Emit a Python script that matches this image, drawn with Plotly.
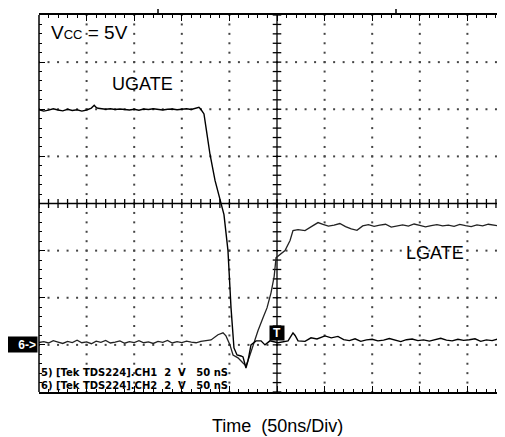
import plotly.graph_objects as go

# ---------------- data (time in ns, 50 ns/div ; volts, 2 V/div) ----------------
ugate_t = [0, 5, 10, 15, 20, 25, 30, 35, 40, 45, 50, 55, 58, 60, 62, 65, 70, 75, 80, 85,
           90, 95, 100, 105, 110, 115, 120, 125, 130, 135, 140, 145, 150, 155, 160, 165, 168, 170,
           173.3, 175.4, 179.6, 184.9, 191.2, 194.3, 198.5, 201.7, 204.8, 208, 212.2, 214.3,
           217.4, 219.5, 222.7, 228, 233.2, 237.4, 242.6, 251, 261.6, 266.8, 269, 272.1, 279.4,
           285.7, 292, 300.4, 307, 314, 320, 326, 332, 338, 344, 350, 356, 362, 368, 374, 380,
           386, 392, 398, 404, 410, 416, 422, 428, 434, 440, 446, 452, 458, 464, 470, 476, 482,
           488, 494, 498]
ugate_v = [9.98, 9.92, 9.96, 10.02, 9.97, 9.93, 10.0, 9.95, 9.98, 9.92, 9.97, 10.05, 10.17, 10.08,
           10.04, 10.03, 10.0, 10.02, 9.99, 10.01, 9.98, 9.97, 10.0, 9.96, 10.01, 9.99, 10.02, 9.98,
           9.97, 10.0, 10.01, 9.98, 10.0, 10.02, 9.99, 10.03, 10.08, 10.0,
           9.8, 9.23, 8.09, 6.98, 5.96, 5.53, 4.0, 1.57, -0.13, -0.43, -0.47, -0.51,
           -0.98, -0.68, 0.0, 0.17, 0.17, 0.0, 0.17, 0.09, 0.17, 0.51, 0.4, 0.17, 0.15,
           0.3, 0.25, 0.38, 0.3, 0.36, 0.22, 0.18, 0.26, 0.15, 0.21, 0.24, 0.17, 0.2, 0.27,
           0.19, 0.14, 0.22, 0.25, 0.18, 0.21, 0.16, 0.23, 0.28, 0.2, 0.17, 0.24, 0.19, 0.22,
           0.26, 0.15, 0.21, 0.18, 0.25, 0.2, 0.23, 0.17]

lgate_t = [0, 5, 10, 15, 20, 25, 30, 35, 40, 45, 50, 55, 60, 65, 70, 75, 80, 85, 90, 95, 100,
           105, 110, 115, 120, 125, 130, 135, 140, 145, 150, 155, 160, 165, 170, 175,
           180.7, 188, 193.3, 196.4, 200.6, 203.8, 209, 214.3, 217.4, 221.6, 224.8, 230, 235.3,
           239.5, 243.7, 247, 249, 253.2, 258.4, 263.7, 266.8, 272.1, 279.4, 287.8, 293.1, 298.3,
           304, 310, 316, 322, 328, 334, 340, 346, 352, 358, 364, 370, 376, 382, 388, 394, 400,
           406, 412, 418, 424, 430, 436, 442, 448, 454, 460, 466, 472, 478, 484, 490, 498]
lgate_v = [0.1, 0.14, 0.08, 0.18, 0.12, 0.06, 0.15, 0.1, 0.2, 0.09, 0.13, 0.05, 0.16, 0.11, 0.19,
           0.08, 0.12, 0.17, 0.07, 0.14, 0.1, 0.18, 0.09, 0.13, 0.06, 0.15, 0.11, 0.19, 0.08, 0.14,
           0.1, 0.16, 0.12, 0.09, 0.15, 0.18,
           0.21, 0.43, 0.51, 0.38, 0.0, -0.43, -0.55, -0.77, -0.89, -0.43, 0.0, 0.6, 1.15,
           1.57, 2.21, 2.9, 3.7, 3.83, 4.0, 4.43, 4.85, 4.89, 4.85, 5.06, 5.19, 5.11,
           5.04, 5.08, 5.15, 5.02, 4.92, 4.86, 5.05, 5.1, 5.03, 5.08, 5.12, 5.0, 5.06, 5.09, 5.04,
           5.13, 5.07, 5.01, 5.06, 5.1, 5.05, 5.08, 5.03, 5.11, 5.06, 5.02, 5.09, 5.05, 5.12,
           5.07, 5.04, 5.1, 5.13]

NB = "\u00a0"
labels = {"vcc": "V<span style='font-size:13px'>CC</span> = 5V", "ugate": "UGATE", "lgate": "LGATE",
          "xtitle": "Time" + NB + " (50ns/Div)",
          "ch1": "5) [Tek TDS224].CH1" + NB + " 2" + NB + " V" + NB * 2 + " 50 nS",
          "ch2": "6) [Tek TDS224].CH2" + NB + " 2" + NB + " V" + NB * 2 + " 50 nS"}

T_MAX = 497.9            # visible time span (right border just off screen)
V_MIN, V_MAX = -2, 14    # 8 divisions of 2 V
NS_DIV, V_DIV = 50, 2
trig_t, trig_v = 250, 0.51

FONT = "Liberation Sans, Arial, sans-serif"
fig = go.Figure()

# ---- graticule dots ----
gx, gy = [], []
for k in range(1, 10):
    xd = k * NS_DIV
    if xd == 250:
        continue
    for j in range(0, 41):
        gx.append(xd); gy.append(V_MIN + j * V_DIV / 5)
for k in range(1, 8):
    yd = V_MIN + k * V_DIV
    if yd == 6:
        continue
    for j in range(0, 50):
        gx.append(j * NS_DIV / 5); gy.append(yd)
fig.add_trace(go.Scatter(x=gx, y=gy, mode="markers", hoverinfo="skip",
                         marker=dict(size=2, color="#444", symbol="square", line=dict(width=0))))

# ---- centre axes with ticks ----
cx, cy = [], []
for j in range(0, 41):
    v = V_MIN + j * V_DIV / 5
    cx += [250 - 4.5, 250 + 4.5, None]; cy += [v, v, None]
for j in range(0, 50):
    t = j * NS_DIV / 5
    cx += [t, t, None]; cy += [6 - 0.19, 6 + 0.19, None]
cx += [250, 250, None, 0, T_MAX]; cy += [V_MIN, V_MAX, None, 6, 6]
fig.add_trace(go.Scatter(x=cx, y=cy, mode="lines", hoverinfo="skip",
                         line=dict(color="black", width=1.3)))

# ---- right border ticks (border itself off screen) ----
rx, ry = [], []
for j in range(0, 41):
    v = V_MIN + j * V_DIV / 5
    rx += [T_MAX - (6 if j % 5 == 0 else 3), T_MAX, None]; ry += [v, v, None]
fig.add_trace(go.Scatter(x=rx, y=ry, mode="lines", hoverinfo="skip",
                         line=dict(color="black", width=1)))

# ---- signals ----
fig.add_trace(go.Scatter(x=lgate_t, y=lgate_v, mode="lines", name="LGATE",
                         line=dict(color="#222", width=1.3)))
fig.add_trace(go.Scatter(x=ugate_t, y=ugate_v, mode="lines", name="UGATE",
                         line=dict(color="black", width=1.4)))

ann = []
ann.append(dict(xref="paper", yref="paper", x=10 / 474, y=(384 - 25) / 377, xanchor="left",
                yanchor="middle", text=labels["vcc"], showarrow=False,
                font=dict(family=FONT, size=19, color="black")))
ann.append(dict(xref="paper", yref="paper", x=(134.5 - 31) / 474, y=(384 - 76) / 377,
                xanchor="center", yanchor="middle",
                text=labels["ugate"], showarrow=False, font=dict(family=FONT, size=18, color="black")))
ann.append(dict(xref="paper", yref="paper", x=(426.5 - 31) / 474, y=(384 - 245) / 377,
                xanchor="center", yanchor="middle",
                text=labels["lgate"], showarrow=False, font=dict(family=FONT, size=18, color="black")))
ann.append(dict(xref="paper", yref="paper", x=(269 - 31) / 474, y=(384 - 418) / 377,
                xanchor="center", yanchor="middle", text=labels["xtitle"],
                showarrow=False, font=dict(family=FONT, size=18, color="black")))
# scope channel read-out (two lines in one block)
ann.append(dict(xref="paper", yref="paper", x=0, xshift=0, y=0, yshift=-1, xanchor="left",
                yanchor="bottom", align="left",
                text="<b>" + labels["ch1"] + "<br>" + labels["ch2"] + "</b>", showarrow=False,
                font=dict(family="DejaVu Sans, sans-serif", size=10, color="black")))
# channel ground marker
ann.append(dict(xref="paper", yref="y", x=0, xshift=-1, y=0, xanchor="right", yanchor="middle",
                text="<b>6-></b>", showarrow=False, bgcolor="black", width=27, height=13,
                borderpad=1, align="right", font=dict(family=FONT, size=12, color="white")))
# trigger marker
ann.append(dict(xref="x", yref="y", x=trig_t, y=trig_v, text="<b>T</b>", showarrow=False,
                xanchor="center", yanchor="middle",
                bgcolor="black", width=12, height=12, borderpad=1,
                font=dict(family=FONT, size=12, color="white")))

shapes = [dict(type="line", xref="paper", yref="paper", x0=0, x1=0, y0=0, y1=1,
               line=dict(color="black", width=1.5))]
for tm in (125, 375):
    shapes.append(dict(type="line", xref="x", yref="paper", x0=tm, x1=tm, y0=1.005, y1=1.016,
                       line=dict(color="black", width=1.5)))

fig.update_layout(
    width=505, height=437, margin=dict(l=31, r=0, t=7, b=53),
    paper_bgcolor="white", plot_bgcolor="white", showlegend=False,
    annotations=ann, shapes=shapes,
    xaxis=dict(range=[0, T_MAX], showgrid=False, zeroline=False, showline=True, linecolor="black",
               linewidth=1.5, mirror="allticks", ticks="inside", ticklen=6, tickwidth=1,
               tickcolor="black", dtick=NS_DIV, tick0=0, showticklabels=False,
               minor=dict(dtick=NS_DIV / 5, ticklen=3, ticks="inside", tickcolor="black",
                          tickwidth=1, showgrid=False)),
    yaxis=dict(range=[V_MIN, V_MAX], showgrid=False, zeroline=False, showline=False,
               ticks="inside", ticklen=6, tickwidth=1, tickcolor="black", dtick=V_DIV, tick0=V_MIN,
               showticklabels=False,
               minor=dict(dtick=V_DIV / 5, ticklen=3, ticks="inside", tickcolor="black",
                          tickwidth=1, showgrid=False)),
)

fig.write_html("out.html")
